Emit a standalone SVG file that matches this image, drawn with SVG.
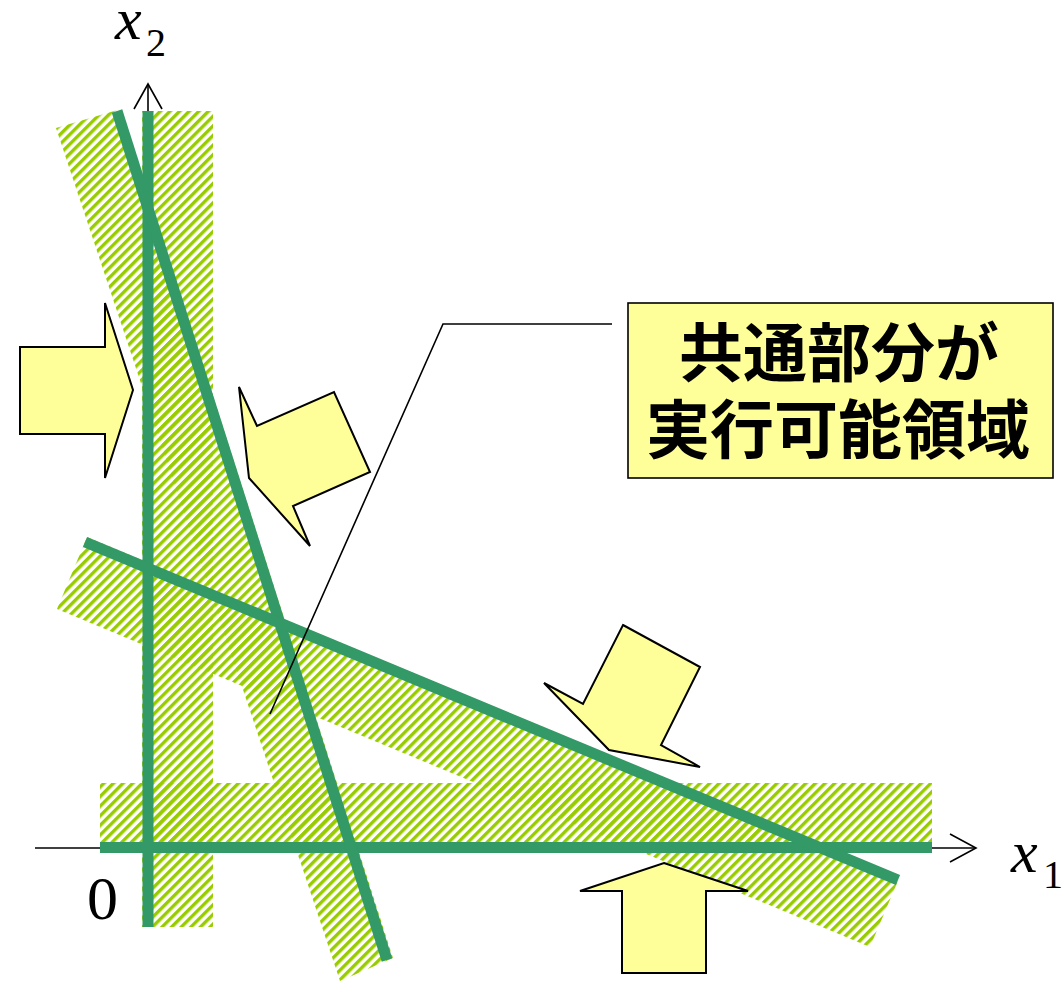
<svg xmlns="http://www.w3.org/2000/svg" width="1062" height="982" viewBox="0 0 1062 982">
  <style>
    .band { fill: url(#hatch); stroke: none; }
    .gline { stroke: #339966; stroke-width: 11; fill: none; stroke-linecap: butt; }
    .axis { stroke: #000; stroke-width: 1.6; fill: none; }
    .yarrow { fill: #FFFF99; stroke: #000; stroke-width: 2; stroke-linejoin: miter; }
    .lbl { font-family: "Liberation Serif", "Times New Roman", serif; fill: #000; }
    .jp { font-family: "Noto Sans CJK JP", "Noto Sans", sans-serif; font-size: 64px; font-weight: 700; fill: #000; text-anchor: middle; }
  </style>
  <defs>
    <pattern id="hatch" patternUnits="userSpaceOnUse" width="6.8" height="10" patternTransform="rotate(45)">
      <rect x="0" y="0" width="3.4" height="10" fill="#99CC00"/>
    </pattern>
  </defs>
  <rect width="1062" height="982" fill="#fff"/>

  <g id="axes">
    <line class="axis" x1="35" y1="848" x2="975" y2="848"/>
    <polyline class="axis" points="950,834 976,848 950,862"/>
    <line class="axis" x1="148" y1="848" x2="148" y2="85"/>
    <polyline class="axis" points="134,109 148,84 162,109"/>
  </g>

  <g id="bands">
    <rect id="band-x2" class="band" x="142" y="111" width="71" height="816"/>
    <rect id="band-x1" class="band" x="100" y="783" width="832" height="65"/>
    <polygon id="band-steep" class="band" points="56,128 121,109 393,958 340,981"/>
    <polygon id="band-shallow" class="band" points="87,537 900,876 870,947 57,609"/>
  </g>

  <g id="constraint-lines">
    <line class="gline" x1="148" y1="111" x2="148" y2="927"/>
    <line class="gline" x1="100" y1="847.5" x2="932" y2="847.5"/>
    <line class="gline" x1="117" y1="111" x2="387" y2="960"/>
    <line class="gline" x1="85" y1="542" x2="898" y2="880"/>
  </g>

  <g id="arrow-left">
    <polygon class="yarrow" points="20,347 105,347 105,303 133,390 105,478 105,434 20,434"/>
  </g>
  <g id="arrow-steep">
    <polygon class="yarrow" points="239,387 257,426 334,392 370,472 293,506 310,546 249,478"/>
  </g>
  <g id="arrow-shallow">
    <polygon class="yarrow" points="623,625 700,667 661,745 700,767 609,750 544,683 583,704"/>
  </g>
  <g id="arrow-bottom">
    <polygon class="yarrow" points="664,863 748,891 706,891 706,973 622,973 622,891 580,891"/>
  </g>

  <g id="connectors">
    <polyline points="612,324 443,324 270,714" fill="none" stroke="#000" stroke-width="1.6"/>
  </g>

  <g id="callout">
    <rect x="628" y="303" width="425" height="175" fill="#FFFF99" stroke="#000" stroke-width="1.6"/>
    <text class="jp" x="839" y="376">共通部分が</text>
    <text class="jp" x="838" y="453">実行可能領域</text>
  </g>

  <g id="labels">
    <text class="lbl" x="115" y="39" font-size="60" font-style="italic">x</text>
    <text class="lbl" x="146" y="56" font-size="40">2</text>
    <text class="lbl" x="1011" y="872" font-size="60" font-style="italic">x</text>
    <text class="lbl" x="1043" y="888" font-size="40">1</text>
    <text class="lbl" x="87" y="919" font-size="62">0</text>
  </g>
</svg>
